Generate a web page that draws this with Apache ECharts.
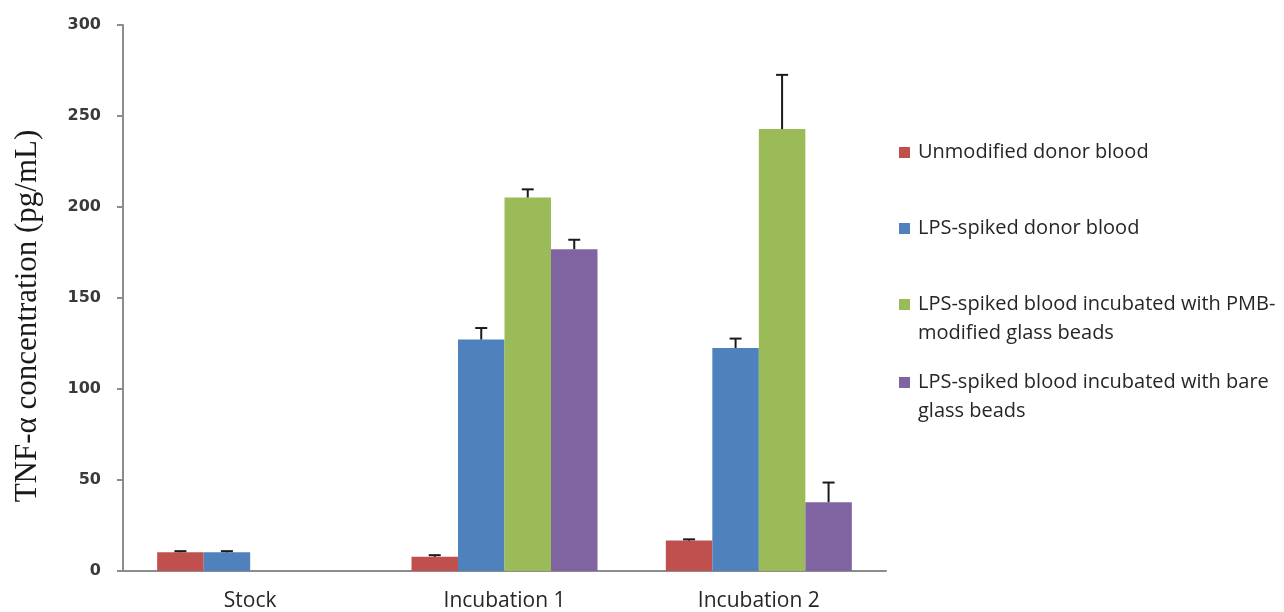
<!DOCTYPE html>
<html>
<head>
<meta charset="utf-8">
<script src="https://cdn.jsdelivr.net/npm/echarts@6/dist/echarts.min.js"></script>
<style>
  html, body { margin: 0; padding: 0; background: #fff; }
  #chart { width: 1284px; height: 612px; }
</style>
</head>
<body>
<div id="chart"></div>
<script>
// Groups along the x axis
const categories = ['Stock', 'Incubation 1', 'Incubation 2'];

// Series names (legend text)
const seriesNames = [
  'Unmodified donor blood',
  'LPS-spiked donor blood',
  'LPS-spiked blood incubated with PMB-modified glass beads',
  'LPS-spiked blood incubated with bare glass beads'
];

// Mean TNF-α concentration (pg/mL)
const unmodified   = [10.3, 7.8, 16.7];
const lpsSpiked    = [10.3, 127.2, 122.5];
const pmbBeads     = [null, 205.2, 242.8];
const bareBeads    = [null, 176.8, 37.8];

// Upper error (SD) for each mean
const unmodifiedErr = [0.6, 0.9, 0.7];
const lpsSpikedErr  = [0.6, 6.3, 5.2];
const pmbBeadsErr   = [null, 4.5, 29.8];
const bareBeadsErr  = [null, 5.2, 10.8];

// Y axis ticks
const yTicks = [0, 50, 100, 150, 200, 250, 300];

const colors = ['#C0504D', '#4F81BD', '#9BBB59', '#8064A2'];
const means = [unmodified, lpsSpiked, pmbBeads, bareBeads];
const errs = [unmodifiedErr, lpsSpikedErr, pmbBeadsErr, bareBeadsErr];

const BAR_W = 46.5;
const labelFont = '"Open Sans", "Liberation Sans", sans-serif';

// rows for the error-bar series: [categoryIndex, value, upperError, seriesIndex]
const errorRows = [];
means.forEach((arr, s) => {
  arr.forEach((v, c) => {
    if (v != null && errs[s][c] != null) errorRows.push([c, v, errs[s][c], s]);
  });
});

const barSeries = seriesNames.map((name, i) => ({
  name: name,
  type: 'bar',
  data: means[i],
  barWidth: BAR_W,
  barGap: '0%',
  itemStyle: { color: colors[i] },
  silent: true,
  z: 2
}));

const errorSeries = {
  type: 'custom',
  silent: true,
  z: 5,
  data: errorRows,
  encode: { x: 0, y: 1 },
  renderItem: function (params, api) {
    const c = api.value(0), v = api.value(1), e = api.value(2), s = api.value(3);
    const base = api.coord([c, v]);
    const top = api.coord([c, v + e]);
    const x = base[0] + (s - 1.5) * BAR_W;
    const half = 6;
    const style = { stroke: '#1a1a1a', lineWidth: 2 };
    return {
      type: 'group',
      children: [
        { type: 'line', shape: { x1: x, y1: base[1], x2: x, y2: top[1] }, style: style },
        { type: 'line', shape: { x1: x - half, y1: top[1], x2: x + half, y2: top[1] }, style: style }
      ]
    };
  }
};

// one legend block per series so each entry sits at its own height;
// wrapped entries get a leading blank line so the swatch stays level
// with their first line of text
const LINE_H = 29;
const legendTops = [138, 214, 261, 339];
const legendLines = [
  ['Unmodified donor blood'],
  ['LPS-spiked donor blood'],
  ['LPS-spiked blood incubated with PMB-', 'modified glass beads'],
  ['LPS-spiked blood incubated with bare', 'glass beads']
];
const legends = seriesNames.map((name, i) => {
  const lines = legendLines[i];
  const text = lines.length > 1 ? '\n' + lines.join('\n') : lines[0];
  return {
    data: [name],
    left: 899,
    top: legendTops[i],
    padding: 0,
    orient: 'vertical',
    icon: 'rect',
    itemWidth: 11,
    itemHeight: 11,
    itemGap: 0,
    selectedMode: false,
    formatter: () => text,
    textStyle: {
      fontFamily: labelFont,
      fontSize: 20,
      color: '#262626',
      lineHeight: LINE_H,
      padding: [0, 0, 0, 3]
    }
  };
});

const chart = echarts.init(document.getElementById('chart'), null, { renderer: 'canvas' });
chart.setOption({
  animation: false,
  backgroundColor: '#ffffff',
  color: colors,
  grid: { left: 123, right: 398, top: 25, bottom: 41, containLabel: false },
  legend: legends,
  xAxis: {
    type: 'category',
    data: categories,
    axisLine: { lineStyle: { color: '#8c8c8c', width: 2 } },
    axisTick: { show: false },
    axisLabel: {
      fontFamily: labelFont,
      fontSize: 21,
      color: '#262626',
      margin: 20
    }
  },
  yAxis: {
    type: 'value',
    min: yTicks[0],
    max: yTicks[yTicks.length - 1],
    interval: yTicks[1] - yTicks[0],
    splitLine: { show: false },
    axisLine: { show: true, lineStyle: { color: '#8c8c8c', width: 2 } },
    axisTick: { show: true, length: 6, lineStyle: { color: '#8c8c8c', width: 2 } },
    axisLabel: {
      fontFamily: '"DejaVu Sans", Verdana, sans-serif',
      fontSize: 16,
      fontWeight: 'bold',
      color: '#3a3a3a',
      margin: 22
    }
  },
  graphic: [{
    type: 'text',
    x: 28,
    y: 316,
    rotation: Math.PI / 2,
    style: {
      text: 'TNF-α concentration (pg/mL)',
      font: '31px "Liberation Serif", "Times New Roman", serif',
      fill: '#1a1a1a',
      textAlign: 'center',
      textVerticalAlign: 'middle'
    }
  }],
  series: barSeries.concat([errorSeries])
});
</script>
</body>
</html>
